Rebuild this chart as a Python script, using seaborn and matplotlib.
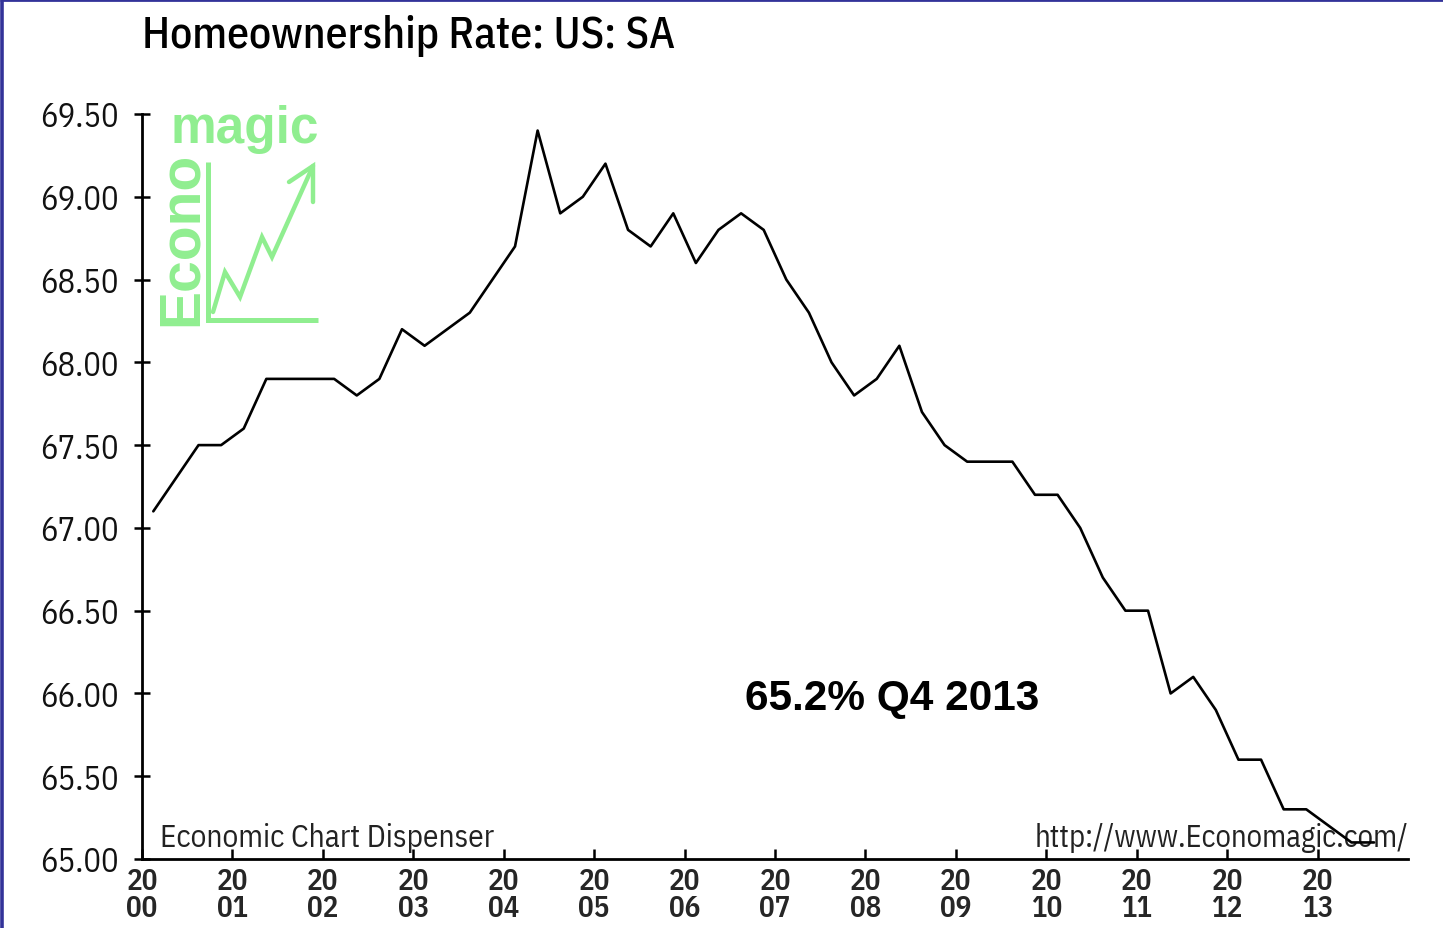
import matplotlib
matplotlib.use("Agg")
import matplotlib.pyplot as plt
import seaborn as sns
import pandas as pd
from matplotlib import font_manager

# ---------------- data ----------------
years = list(range(2000, 2014))
quarters = [1, 2, 3, 4]
rate_2000 = [67.1, 67.3, 67.5, 67.5]
rate_2001 = [67.6, 67.9, 67.9, 67.9]
rate_2002 = [67.9, 67.8, 67.9, 68.2]
rate_2003 = [68.1, 68.2, 68.3, 68.5]
rate_2004 = [68.7, 69.4, 68.9, 69.0]
rate_2005 = [69.2, 68.8, 68.7, 68.9]
rate_2006 = [68.6, 68.8, 68.9, 68.8]
rate_2007 = [68.5, 68.3, 68.0, 67.8]
rate_2008 = [67.9, 68.1, 67.7, 67.5]
rate_2009 = [67.4, 67.4, 67.4, 67.2]
rate_2010 = [67.2, 67.0, 66.7, 66.5]
rate_2011 = [66.5, 66.0, 66.1, 65.9]
rate_2012 = [65.6, 65.6, 65.3, 65.3]
rate_2013 = [65.2, 65.1, 65.1]
y_ticks = [65.0, 65.5, 66.0, 66.5, 67.0, 67.5, 68.0, 68.5, 69.0, 69.5]
x_tick_years = years
title = "Homeownership Rate: US: SA"
annotation = "65.2% Q4 2013"
credit_left = "Economic Chart Dispenser"
credit_right = "http://www.Economagic.com/"

series = [rate_2000, rate_2001, rate_2002, rate_2003, rate_2004, rate_2005,
          rate_2006, rate_2007, rate_2008, rate_2009, rate_2010, rate_2011,
          rate_2012, rate_2013]
rows = []
for yr, vals in zip(years, series):
    for q, v in zip(quarters, vals):
        rows.append({"t": yr + (q - 0.5) / 4.0, "rate": v})
df = pd.DataFrame(rows)

# ---------------- fonts ----------------
sns.set_theme(style="white")
names = {f.name for f in font_manager.fontManager.ttflist}
NARROW = "DejaVu Sans"
for cand in ["IBM Plex Sans Condensed", "Roboto Condensed", "Archivo Narrow"]:
    if cand in names:
        NARROW = cand
        break
plt.rcParams["font.family"] = [NARROW, "DejaVu Sans"]

W, H = 1443, 929
fig = plt.figure(figsize=(W / 100, H / 100), dpi=100)
fig.patch.set_facecolor("white")

# overlay in pixel coordinates for decorations
ov = fig.add_axes([0, 0, 1, 1], zorder=0)
ov.set_xlim(0, W)
ov.set_ylim(H, 0)
ov.axis("off")

# main axes
L, R, T, B = 142, 1408, 115, 860
ax = fig.add_axes([L / W, 1 - B / H, (R - L) / W, (B - T) / H], zorder=1)
ax.set_facecolor("none")

sns.lineplot(data=df, x="t", y="rate", ax=ax, color="black", linewidth=1.9,
             estimator=None)

ax.set_xlim(2000, 2014)
ax.set_ylim(65.0, 69.5)
ax.set_xlabel("")
ax.set_ylabel("")
for s in ["top", "right"]:
    ax.spines[s].set_visible(False)
for s in ["left", "bottom"]:
    ax.spines[s].set_color("black")
    ax.spines[s].set_linewidth(2.0)

ax.set_yticks(y_ticks)
ax.set_yticklabels([f"{v:.2f}" for v in y_ticks], fontsize=23.5, family=NARROW,
                   color="#111111")
ax.set_xticks(x_tick_years)
ax.set_xticklabels([f"20\n{y % 100:02d}" for y in x_tick_years], fontsize=21,
                   family=NARROW, fontweight="semibold", linespacing=0.95)
ax.tick_params(axis="y", direction="inout", length=12, width=1.8, color="black",
               pad=11, left=True)
ax.tick_params(axis="x", direction="in", length=7.5, width=1.8, color="black",
               pad=6, bottom=True)
ax.grid(False)

# ---------------- texts ----------------
ov.text(142, 48, title, fontsize=31.5, family=NARROW, fontweight="medium",
        ha="left", va="baseline", color="black")
ov.text(160, 847, credit_left, fontsize=22.5, family=NARROW, ha="left",
        va="baseline", color="#222222")
ov.text(1408, 847, credit_right, fontsize=22, family=NARROW, ha="right",
        va="baseline", color="#222222")
ov.text(745, 710, annotation, fontsize=30.5, family="Liberation Sans",
        fontweight="bold", ha="left", va="baseline", color="black")

# ---------------- logo ----------------
green = "#90EE90"
ov.text(171, 143, "magic", fontsize=37, family="Liberation Sans",
        fontweight="bold", color=green, ha="left", va="baseline")
ov.text(197, 326, "Econo", fontsize=41, family="Liberation Sans",
        fontweight="bold", color=green, rotation=90, ha="left",
        va="baseline", rotation_mode="anchor")
ov.plot([208, 208, 318], [163, 321, 321], color=green, lw=3.6,
        solid_capstyle="butt", solid_joinstyle="miter")
ov.plot([213, 225, 240, 262, 272, 313], [313, 273, 298, 238, 258, 167],
        color=green, lw=3.2, solid_joinstyle="miter")
ov.plot([289, 313, 313], [183, 167, 203], color=green, lw=3.2,
        solid_joinstyle="miter")

# ---------------- border ----------------
ov.plot([1.5, 1.5], [0, H], color="#333399", lw=2.6, solid_capstyle="butt")
ov.plot([0, W], [1.2, 1.2], color="#333399", lw=2.0, solid_capstyle="butt")

fig.savefig("out.png", dpi=100, facecolor="white")
